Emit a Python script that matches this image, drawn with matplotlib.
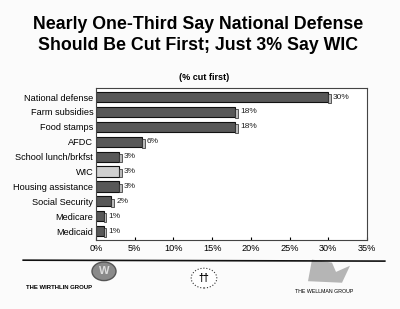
import matplotlib
matplotlib.use("Agg")
import matplotlib.pyplot as plt
from matplotlib.patches import Circle, Polygon

categories = ["National defense", "Farm subsidies", "Food stamps", "AFDC",
              "School lunch/brkfst", "WIC", "Housing assistance",
              "Social Security", "Medicare", "Medicaid"]
values = [30, 18, 18, 6, 3, 3, 3, 2, 1, 1]
tick_vals = [0, 5, 10, 15, 20, 25, 30, 35]
tick_labels = ["0%", "5%", "10%", "15%", "20%", "25%", "30%", "35%"]

plt.rcParams['font.family'] = ['Liberation Sans', 'DejaVu Sans']

fig = plt.figure(figsize=(4, 3.09), dpi=100)
fig.patch.set_facecolor('#fbfbfb')

ax = fig.add_axes([0.24, 0.223, 0.6775, 0.492])
ax.set_facecolor('white')
y = list(range(len(categories)))
colors = ['#d0d0d0' if c == "WIC" else '#585858' for c in categories]
ax.barh(y, values, height=0.68, color=colors, edgecolor='#111111', linewidth=0.8)
# 3D side shading
ax.barh([v + 0.1 for v in y], [0.35] * len(values), left=values, height=0.58,
        color='#bbbbbb', edgecolor='#222222', linewidth=0.5)
for yi, v in zip(y, values):
    ax.text(v + 0.6, yi, f"{v}%", va='center', ha='left', fontsize=6, color='#222222')

ax.set_ylim(len(categories) - 0.4, -0.6)
ax.set_xlim(0, 35)
ax.set_yticks(y)
ax.set_yticklabels(categories, fontsize=6.6)
ax.set_xticks(tick_vals)
ax.set_xticklabels(tick_labels, fontsize=6.6)
ax.tick_params(axis='y', length=0, pad=2)
ax.tick_params(axis='x', length=2, direction='in', pad=3)
for s in ax.spines.values():
    s.set_color('#444444')
    s.set_linewidth(0.8)

fig.text(0.495, 0.922, "Nearly One-Third Say National Defense", ha='center', va='center',
         fontsize=12.8, fontweight='bold')
fig.text(0.495, 0.852, "Should Be Cut First; Just 3% Say WIC", ha='center', va='center',
         fontsize=12.8, fontweight='bold')
fig.text(0.51, 0.748, "(% cut first)", ha='center', va='center', fontsize=6.5, fontweight='bold')

# bottom rule
fig.add_artist(plt.Line2D([0.058, 0.962], [0.158, 0.155], color='#111111', linewidth=1.2))

# logos (approximate)
fig.add_artist(Circle((0.26, 0.122), 0.03, transform=fig.transFigure,
                      facecolor='#8a8a8a', edgecolor='#555555'))
fig.text(0.26, 0.122, "W", ha='center', va='center', fontsize=8, fontweight='bold', color='#dddddd')
fig.text(0.065, 0.07, "THE WIRTHLIN GROUP", ha='left', va='center', fontsize=4.3, fontweight='bold')

fig.add_artist(Circle((0.51, 0.10), 0.032, transform=fig.transFigure,
                      facecolor='white', edgecolor='#333333', linewidth=0.8, linestyle=':'))
fig.text(0.51, 0.10, "\u2020\u2020", ha='center', va='center', fontsize=7, fontweight='bold')

fig.add_artist(Polygon([[0.77, 0.09], [0.78, 0.16], [0.83, 0.15], [0.84, 0.12],
                        [0.875, 0.14], [0.855, 0.085]], closed=True,
                       transform=fig.transFigure, facecolor='#b5b5b5', edgecolor='none'))
fig.text(0.81, 0.056, "THE WELLMAN GROUP", ha='center', va='center', fontsize=3.8)

fig.savefig("out.png", dpi=100, facecolor=fig.get_facecolor())
